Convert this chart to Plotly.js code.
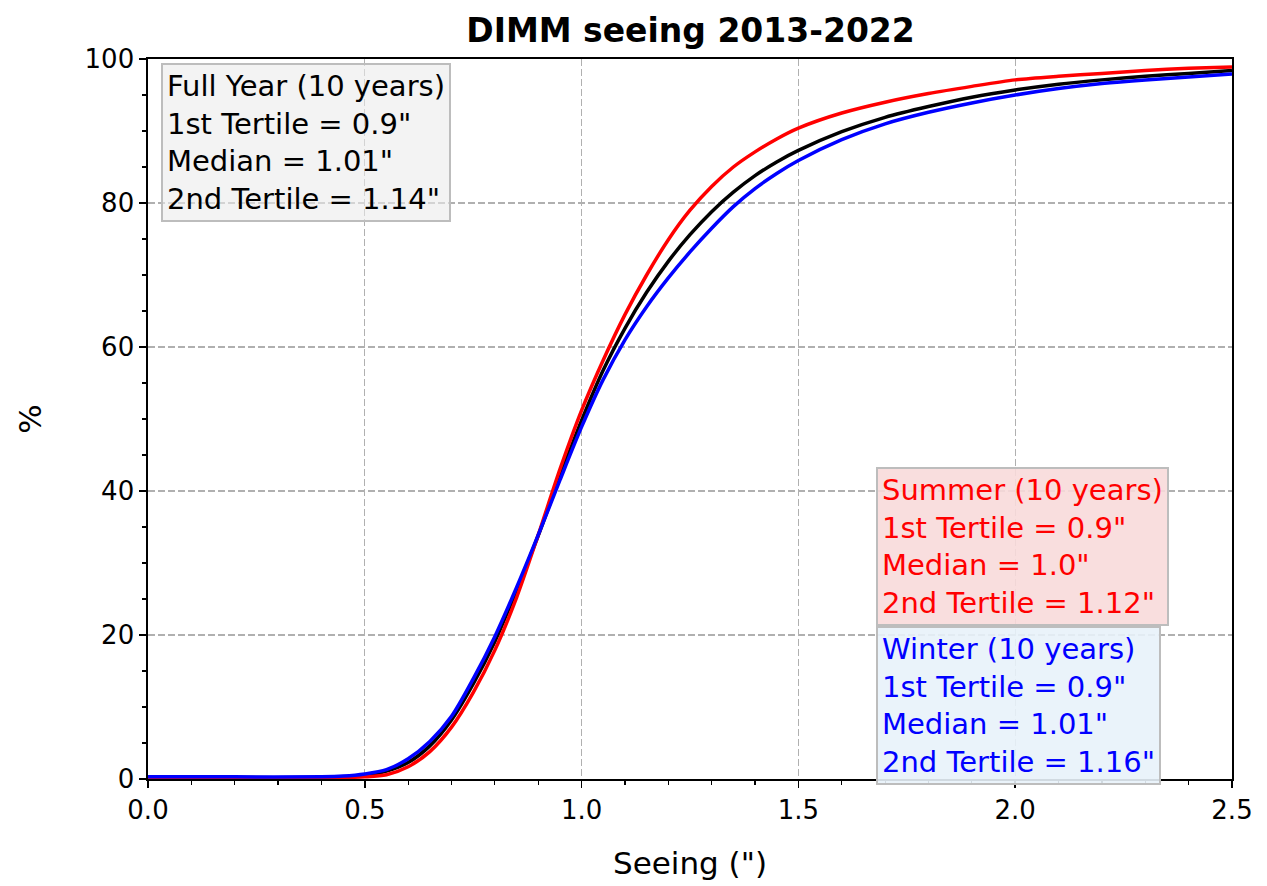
<!DOCTYPE html>
<html><head><meta charset="utf-8">
<script src="https://cdn.plot.ly/plotly-3.0.1.min.js"></script>
<style>html,body{margin:0;padding:0;background:#fff}</style>
</head><body><div id="chart" style="width:1267px;height:886px"></div>
<script>
// Seeing (arcsec) sample positions
const seeing   = [0, 0.2, 0.4, 0.45, 0.5, 0.55, 0.6, 0.65, 0.7, 0.75, 0.8, 0.85, 0.9, 0.95, 1.0, 1.05, 1.1, 1.15, 1.2, 1.25, 1.3, 1.35, 1.4, 1.45, 1.5, 1.6, 1.7, 1.8, 1.9, 2.0, 2.1, 2.2, 2.3, 2.4, 2.5];
// cumulative percentage curves
const fullYear = [0.2, 0.2, 0.2, 0.3, 0.5, 1.1, 2.3, 4.6, 8.2, 13.2, 19.1, 26.2, 33.8, 42.0, 49.8, 56.8, 62.6, 67.6, 71.9, 75.6, 78.8, 81.5, 83.8, 85.7, 87.3, 89.9, 91.9, 93.4, 94.7, 95.7, 96.5, 97.1, 97.6, 98.0, 98.4];
const summer   = [0.1, 0.1, 0.1, 0.2, 0.3, 0.6, 1.7, 3.8, 7.2, 12.0, 17.9, 25.2, 33.9, 43.0, 51.2, 58.2, 64.5, 70.0, 74.9, 79.0, 82.3, 85.0, 87.1, 88.9, 90.4, 92.5, 94.0, 95.2, 96.2, 97.1, 97.6, 98.0, 98.4, 98.7, 98.9];
const winter   = [0.3, 0.3, 0.3, 0.4, 0.7, 1.3, 2.8, 5.2, 8.7, 13.9, 19.8, 26.6, 33.9, 41.5, 48.9, 55.5, 61.0, 65.6, 69.6, 73.2, 76.5, 79.5, 82.0, 84.1, 85.9, 88.8, 91.0, 92.6, 93.9, 95.0, 95.9, 96.6, 97.1, 97.5, 97.9];

const seriesNames  = ['Full Year', 'Summer', 'Winter'];
const seriesColors = ['#000000', '#ff0000', '#0000ff'];
const boxTexts = [
  ['Full Year (10 years)', '1st Tertile = 0.9"', 'Median = 1.01"', '2nd Tertile = 1.14"'],
  ['Summer (10 years)', '1st Tertile = 0.9"', 'Median = 1.0"', '2nd Tertile = 1.12"'],
  ['Winter (10 years)', '1st Tertile = 0.9"', 'Median = 1.01"', '2nd Tertile = 1.16"']
];
const boxFills = ['rgba(235,235,235,0.6)', 'rgba(248,218,218,0.9)', 'rgba(232,242,250,0.9)'];
const boxPos = [[0.012, 0.994], [0.6716, 0.4333], [0.6716, 0.2125]];

const ys = [fullYear, summer, winter];
const traces = ys.map((y, i) => ({
  x: seeing, y: y, type: 'scatter', mode: 'lines', name: seriesNames[i],
  line: {color: seriesColors[i], width: 3.5, shape: 'spline', smoothing: 0.8},
  hoverinfo: 'skip'
}));

const font = 'DejaVu Sans, Verdana, sans-serif';
const annotations = boxTexts.map((lines, i) => ({
  xref: 'paper', yref: 'paper', x: boxPos[i][0], y: boxPos[i][1],
  xanchor: 'left', yanchor: 'top', align: 'left', showarrow: false,
  text: lines.join('<br>'),
  font: {family: font, size: 29, color: seriesColors[i]},
  bgcolor: boxFills[i], bordercolor: '#bdbdbd', borderwidth: 2, borderpad: 4
}));

const axisCommon = {
  showline: true, linecolor: '#000', linewidth: 1.6, mirror: true,
  ticks: 'outside', ticklen: 7, tickwidth: 1.5, tickcolor: '#000',
  showgrid: true, gridcolor: '#b0b0b0', gridwidth: 1.3, griddash: '7px,3px',
  zeroline: false, tickfont: {family: font, size: 26, color: '#000'}
};

const layout = {
  width: 1267, height: 886,
  margin: {l: 148, r: 35, t: 59, b: 107},
  paper_bgcolor: '#fff', plot_bgcolor: '#fff',
  showlegend: false,
  title: {text: '<b>DIMM seeing 2013-2022</b>', x: 0.545, xanchor: 'center', y: 0.966, yanchor: 'middle',
          font: {family: font, size: 33, color: '#000'}},
  xaxis: Object.assign({}, axisCommon, {
    range: [0, 2.5], dtick: 0.5, tick0: 0, tickformat: '.1f',
    minor: {dtick: 0.1, ticks: 'outside', ticklen: 4.5, tickwidth: 1.2, tickcolor: '#000', showgrid: false},
    title: {text: 'Seeing (")', font: {family: font, size: 31, color: '#000'}, standoff: 28}
  }),
  yaxis: Object.assign({}, axisCommon, {
    range: [0, 100], dtick: 20, tick0: 0,
    minor: {dtick: 5, ticks: 'outside', ticklen: 4.5, tickwidth: 1.2, tickcolor: '#000', showgrid: false},
    title: {text: '%', font: {family: font, size: 31, color: '#000'}, standoff: 34}
  }),
  annotations: annotations
};

Plotly.newPlot('chart', traces, layout, {displayModeBar: false, staticPlot: true});
</script>
</body></html>
